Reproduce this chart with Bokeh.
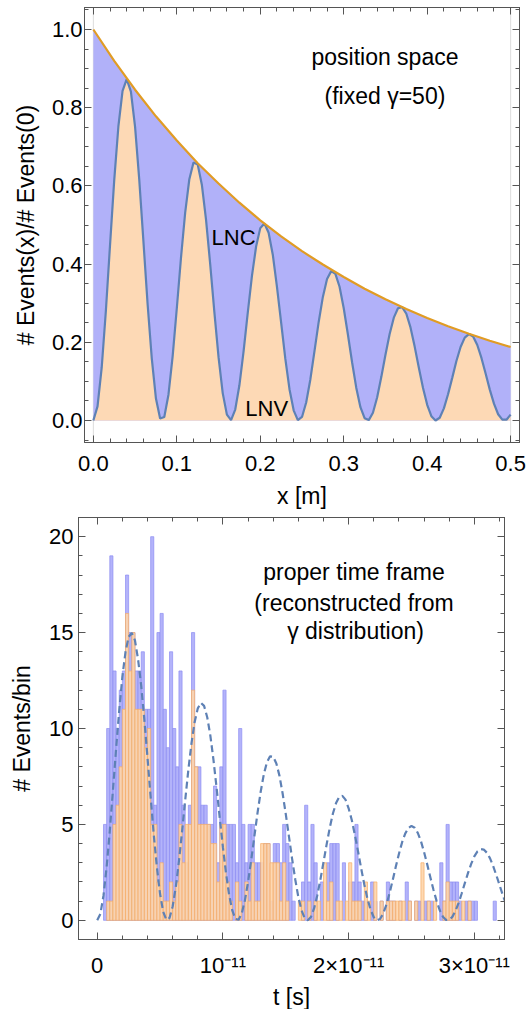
from bokeh.plotting import figure
from bokeh.models import LinearAxis, FixedTicker, Label, Span, Range1d
from bokeh.embed import file_html
from bokeh.resources import INLINE

FONT = "Liberation Sans"
FRAME = "#555555"

# ---------------- top panel data (position space) ----------------
x_pos_mm = [0,5,10,15,20,25,30,35,40,45,50,55,60,65,70,75,80,85,90,95,100,105,110,115,120,125,130,135,140,145,
            150,155,160,165,170,175,180,185,190,195,200,205,210,215,220,225,230,235,240,245,250,255,260,265,270,275,
            280,285,290,295,300,305,310,315,320,325,330,335,340,345,350,355,360,365,370,375,380,385,390,395,400,405,
            410,415,420,425,430,435,440,445,450,455,460,465,470,475,480,485,490,495,500]
lnv_fraction = [0.000, 0.036, 0.135, 0.280, 0.449, 0.614, 0.752, 0.843, 0.873, 0.841,
                0.751, 0.616, 0.458, 0.298, 0.159, 0.056, 0.005, 0.009, 0.066, 0.164,
                0.287, 0.416, 0.531, 0.617, 0.660, 0.655, 0.603, 0.514, 0.400, 0.277,
                0.162, 0.070, 0.015, 0.001, 0.028, 0.090, 0.177, 0.275, 0.369, 0.445,
                0.492, 0.504, 0.480, 0.424, 0.342, 0.250, 0.158, 0.080, 0.026, 0.001,
                0.009, 0.046, 0.105, 0.178, 0.252, 0.316, 0.362, 0.382, 0.375, 0.342,
                0.287, 0.220, 0.149, 0.084, 0.034, 0.006, 0.001, 0.020, 0.059, 0.111,
                0.168, 0.221, 0.263, 0.287, 0.290, 0.273, 0.238, 0.189, 0.135, 0.083,
                0.040, 0.011, 0.000, 0.007, 0.031, 0.067, 0.109, 0.152, 0.188, 0.212,
                0.221, 0.215, 0.193, 0.160, 0.120, 0.079, 0.043, 0.016, 0.002, 0.002,
                0.015]
x_env_mm = [0,25,50,75,100,125,150,175,200,225,250,275,300,325,350,375,400,425,450,475,500]
total_fraction = [1.000, 0.920, 0.846, 0.778, 0.716, 0.658, 0.606, 0.557, 0.512, 0.471, 0.433,
                  0.399, 0.367, 0.337, 0.310, 0.285, 0.262, 0.241, 0.222, 0.204, 0.188]

x_ticks = [0.0, 0.1, 0.2, 0.3, 0.4, 0.5]
x_tick_labels = ["0.0", "0.1", "0.2", "0.3", "0.4", "0.5"]
y_ticks = [0.0, 0.2, 0.4, 0.6, 0.8, 1.0]
y_tick_labels = ["0.0", "0.2", "0.4", "0.6", "0.8", "1.0"]

# ---------------- bottom panel data (proper time) ----------------
bin_width = 0.025   # in units of 1e-11 s
lnc_counts = [0,0,5,10,19,13,10,12,13,18,
              15,15,13,13,14,11,11,20,6,15,
              16,11,9,14,10,8,13,6,3,6,
              15,8,8,6,6,5,5,7,3,8,
              12,5,5,5,3,10,5,3,5,5,
              3,3,3,4,4,1,4,4,3,5,
              4,3,1,0,0,2,6,2,5,3,
              0,2,0,3,4,4,4,0,3,0,
              2,2,5,2,1,1,0,2,1,0,
              1,0,2,1,1,0,1,0,2,1,
              0,1,1,0,1,1,1,0,0,3,
              1,5,2,2,2,1,0,1,1,1,
              1,0,0,0,0,0,1,0]
lnv_counts = [0,0,0,1,1,5,6,8,11,16,
              13,15,11,11,11,9,10,5,5,2,
              3,1,1,2,1,2,5,3,5,5,
              12,8,5,5,5,5,4,4,2,5,
              5,2,1,0,2,1,0,2,1,3,
              1,1,4,4,4,3,3,3,1,3,
              1,0,0,0,1,1,0,1,0,1,
              1,0,3,1,2,0,1,1,0,1,
              3,1,1,1,0,2,1,0,2,0,
              1,0,1,1,1,1,1,1,0,1,
              0,1,0,3,0,1,0,1,0,0,
              1,2,1,1,1,0,1,0,1,0,
              0,0,0,0,0,0,0,0]
t_curve_1e14s = [0,25,50,75,100,125,150,175,200,225,
                 250,275,300,325,350,375,400,425,450,475,
                 500,525,550,575,600,625,650,675,700,725,
                 750,775,800,825,850,875,900,925,950,975,
                 1000,1025,1050,1075,1100,1125,1150,1175,1200,1225,
                 1250,1275,1300,1325,1350,1375,1400,1425,1450,1475,
                 1500,1525,1550,1575,1600,1625,1650,1675,1700,1725,
                 1750,1775,1800,1825,1850,1875,1900,1925,1950,1975,
                 2000,2025,2050,2075,2100,2125,2150,2175,2200,2225,
                 2250,2275,2300,2325,2350,2375,2400,2425,2450,2475,
                 2500,2525,2550,2575,2600,2625,2650,2675,2700,2725,
                 2750,2775,2800,2825,2850,2875,2900,2925,2950,2975,
                 3000,3025,3050,3075,3100,3125,3150,3175,3200,3225,
                 3250]
expected_per_bin = [0.00, 0.33, 1.30, 2.79, 4.67, 6.78, 8.93, 10.95, 12.69, 14.00,
                    14.78, 14.98, 14.60, 13.60, 12.22, 10.45, 8.48, 6.42, 4.45, 2.74,
                    1.37, 0.44, 0.02, 0.12, 0.72, 1.73, 3.08, 4.64, 6.27, 7.85,
                    9.24, 10.34, 11.05, 11.34, 11.18, 10.59, 9.63, 8.35, 6.88, 5.32,
                    3.80, 2.43, 1.30, 0.50, 0.07, 0.03, 0.37, 1.05, 2.00, 3.14,
                    4.37, 5.59, 6.69, 7.60, 8.24, 8.55, 8.53, 8.18, 7.53, 6.61,
                    5.54, 4.38, 3.22, 2.14, 1.21, 0.53, 0.12, 0.00, 0.17, 0.62,
                    1.28, 2.11, 3.03, 3.96, 4.83, 5.57, 6.11, 6.43, 6.49, 6.29,
                    5.84, 5.23, 4.44, 3.59, 2.70, 1.85, 1.12, 0.55, 0.16, 0.00,
                    0.07, 0.35, 0.80, 1.40, 2.08, 2.79, 3.46, 4.06, 4.52, 4.81,
                    4.92, 4.83, 4.56, 4.13, 3.56, 2.92, 2.24, 1.59, 1.00, 0.52,
                    0.19, 0.02, 0.02, 0.18, 0.49, 0.91, 1.41, 1.95, 2.47, 2.94,
                    3.33, 3.59, 3.71, 3.69, 3.52, 3.23, 2.82, 2.35, 1.85, 1.34,
                    0.88]
t_ticks = [0, 1, 2, 3]
t_tick_labels = ["0", "10\u207b\u00b9\u00b9", "2\u00d710\u207b\u00b9\u00b9", "3\u00d710\u207b\u00b9\u00b9"]
n_ticks = [0, 5, 10, 15, 20]
n_tick_labels = ["0", "5", "10", "15", "20"]


def style_axis(ax, major, minor, labels, standoff):
    ax.ticker = FixedTicker(ticks=major, minor_ticks=minor)
    ax.major_tick_in = 7
    ax.major_tick_out = 0
    ax.minor_tick_in = 4
    ax.minor_tick_out = 0
    ax.axis_line_color = FRAME
    ax.major_tick_line_color = FRAME
    ax.minor_tick_line_color = FRAME
    ax.major_label_text_font = FONT
    ax.major_label_text_color = "black"
    ax.major_label_text_font_size = "22px"
    ax.major_label_standoff = standoff
    ax.major_label_overrides = {k: v for k, v in zip(major, labels)}
    ax.axis_label_text_font = FONT
    ax.axis_label_text_font_style = "normal"
    ax.axis_label_text_font_size = "23px"
    ax.axis_label_text_color = "black"


def add_frame_ticks(p, side, major, minor):
    # frame ticks without labels (top / right sides): short ticks, then long ones
    for pos, length in ((minor, 4), (major, 7)):
        ax = LinearAxis(ticker=FixedTicker(ticks=[], minor_ticks=pos))
        ax.major_tick_in = 0
        ax.major_tick_out = 0
        ax.minor_tick_in = length
        ax.minor_tick_out = 0
        ax.major_label_standoff = 0
        ax.axis_label_standoff = 0
        ax.axis_line_color = FRAME
        ax.minor_tick_line_color = FRAME
        p.add_layout(ax, side)


def add_text(p, x, y, text, size="23px", align="center"):
    p.add_layout(Label(x=x, y=y, text=text, text_font=FONT, text_font_size=size,
                       text_align=align, text_baseline="alphabetic", text_color="black"))


# ================= top figure =================
p1 = figure(frame_width=435, frame_height=435,
            x_range=Range1d(-0.0106, 0.5106), y_range=Range1d(-0.0563, 1.0563),
            output_backend="svg", toolbar_location=None,
            min_border_left=84, min_border_right=12, min_border_top=7, min_border_bottom=70,
            background_fill_color="white", border_fill_color="white", outline_line_color=FRAME)
p1.grid.visible = False

x_pos = [v / 1000 for v in x_pos_mm]
x_env = [v / 1000 for v in x_env_mm]

for loc in (0.0, 0.5):
    p1.add_layout(Span(location=loc, dimension="height", line_color="#dcdcdc", line_width=1, level="underlay"))

p1.varea(x=x_env, y1=0, y2=total_fraction, fill_color="#b1b1f9", fill_alpha=1.0)
p1.varea(x=x_pos, y1=0, y2=lnv_fraction, fill_color="#fdd9b5", fill_alpha=1.0)
p1.line(x_pos, lnv_fraction, line_color="#5e81b5", line_width=2.2)
p1.line(x_env, total_fraction, line_color="#e19c24", line_width=2.2)

minor_x1 = [round(0.02 * i, 2) for i in range(0, 26)]
minor_y1 = [round(0.05 * i, 2) for i in range(-1, 22)]
style_axis(p1.xaxis[0], x_ticks, minor_x1, x_tick_labels, standoff=13)
style_axis(p1.yaxis[0], y_ticks, minor_y1, y_tick_labels, standoff=2)
p1.xaxis[0].axis_label = "x [m]"
p1.xaxis[0].axis_label_standoff = 9
p1.yaxis[0].axis_label = "# Events(x)/# Events(0)"
p1.yaxis[0].axis_label_standoff = 10
add_frame_ticks(p1, "above", x_ticks, minor_x1)
add_frame_ticks(p1, "right", y_ticks, minor_y1)

add_text(p1, 0.3494, 0.929, "position space")
add_text(p1, 0.3494, 0.829, "(fixed \u03b3=50)")
add_text(p1, 0.168, 0.468, "LNC", size="22px")
add_text(p1, 0.2077, 0.031, "LNV", size="22px")

# ================= bottom figure =================
p2 = figure(frame_width=426, frame_height=422,
            x_range=Range1d(-0.149, 3.240), y_range=Range1d(-1.0, 21.0),
            output_backend="svg", toolbar_location=None,
            min_border_left=78, min_border_right=27, min_border_top=5, min_border_bottom=70,
            background_fill_color="white", border_fill_color="white", outline_line_color=FRAME)
p2.grid.visible = False

def bars(counts):
    left, right, top = [], [], []
    for i, c in enumerate(counts):
        if c > 0:
            left.append(i * bin_width)
            right.append((i + 1) * bin_width)
            top.append(c)
    return left, right, top

l, r, t = bars(lnc_counts)
p2.quad(left=l, right=r, bottom=0, top=t, fill_color="#b3b3fa", fill_alpha=1.0,
        line_color="#8c8cf2", line_width=0.7)
l, r, t = bars(lnv_counts)
p2.quad(left=l, right=r, bottom=0, top=t, fill_color="#fed5ab", fill_alpha=0.9,
        line_color="#f6ad66", line_width=0.7)

t_curve = [v / 1000 for v in t_curve_1e14s]
p2.line(t_curve, expected_per_bin, line_color="#5e81b5", line_width=2.2, line_dash="7 4")

minor_x2 = [round(0.2 * i, 1) for i in range(0, 17)]
minor_y2 = list(range(-1, 22))
style_axis(p2.xaxis[0], t_ticks, minor_x2, t_tick_labels, standoff=13)
p2.xaxis[0].axis_label = "t [s]"
p2.xaxis[0].axis_label_standoff = 3
style_axis(p2.yaxis[0], n_ticks, minor_y2, n_tick_labels, standoff=5)
p2.yaxis[0].axis_label = "# Events/bin"
p2.yaxis[0].axis_label_standoff = 11
add_frame_ticks(p2, "above", t_ticks, minor_x2)
add_frame_ticks(p2, "right", n_ticks, minor_y2)

add_text(p2, 2.043, 18.18, "proper time frame")
add_text(p2, 2.043, 16.56, "(reconstructed from")
add_text(p2, 2.055, 15.10, "\u03b3 distribution)")

# each figure as its own root, so that their frames are not aligned to each other
open("out.html", "w").write(file_html([p1, p2], INLINE))
